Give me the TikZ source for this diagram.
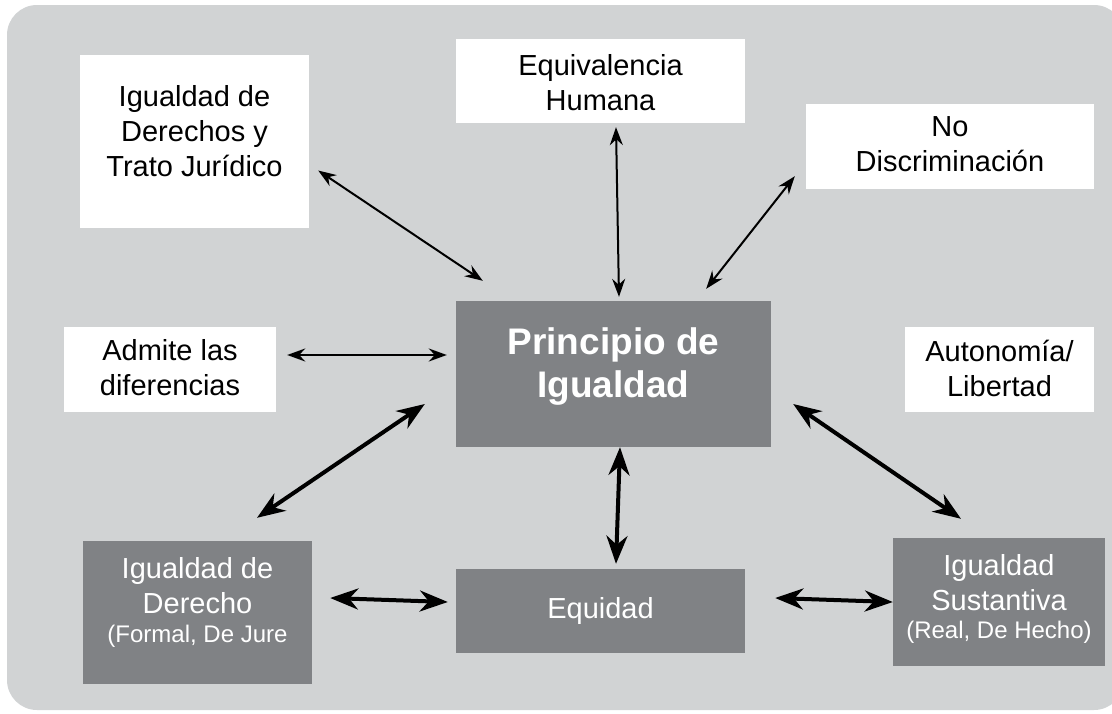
\documentclass[tikz,border=0pt]{standalone}
\usepackage{fontspec}
\setmainfont{Liberation Sans}
\usetikzlibrary{arrows.meta,calc}
\definecolor{panelgray}{HTML}{D1D3D4}
\definecolor{boxgray}{HTML}{808285}
\tikzset{
  lightbox/.style={rectangle, fill=white, inner sep=0pt},
  darkbox/.style={rectangle, fill=boxgray, inner sep=0pt},
  boxtext/.style={align=center, inner sep=0pt, font=\fontsize{29}{35}\selectfont},
  thin link/.style={{Stealth[length=18pt,width=13pt,inset=6pt]}-{Stealth[length=18pt,width=13pt,inset=6pt]}, line width=2pt},
  thick link/.style={{Stealth[length=28pt,width=21pt,inset=9pt]}-{Stealth[length=28pt,width=21pt,inset=9pt]}, line width=4pt}
}
\begin{document}
\begin{tikzpicture}[x=1pt,y=-1pt]
  \useasboundingbox (0,0) rectangle (1112,713);
  \clip (0,0) rectangle (1112,713);
  \fill[panelgray, rounded corners=30pt] (7,5) rectangle (1124,710);
  % boxes
  \path
    (194.5,141.5) node[lightbox, minimum width=229pt, minimum height=173pt] (der) {}
    (600.5,81) node[lightbox, minimum width=289pt, minimum height=84pt] (equiv) {}
    (950,146.5) node[lightbox, minimum width=288pt, minimum height=85pt] (nodisc) {}
    (170,369.5) node[lightbox, minimum width=212pt, minimum height=85pt] (admite) {}
    (999.5,369.5) node[lightbox, minimum width=189pt, minimum height=85pt] (auto) {}
    (613.5,374) node[darkbox, minimum width=315pt, minimum height=146pt] (prin) {}
    (197.5,612.5) node[darkbox, minimum width=229pt, minimum height=143pt] (igder) {}
    (600.5,611) node[darkbox, minimum width=289pt, minimum height=84pt] (equi) {}
    (999,602) node[darkbox, minimum width=212pt, minimum height=128pt] (sust) {};
  % texts
  \path
    (194.5,131.6) node[boxtext] (der-t) {Igualdad de\\Derechos y\\Trato Jurídico}
    (600.5,82.6) node[boxtext] (equiv-t) {Equivalencia\\Humana}
    (950,144) node[boxtext] (nodisc-t) {No\\Discriminación}
    (170,367.6) node[boxtext] (admite-t) {Admite las\\diferencias}
    (999.5,368) node[boxtext] (auto-t) {Autonomía/\\Libertad}
    (613.5,367) node[boxtext, text=white, font=\fontsize{37}{43}\selectfont\bfseries] (prin-t) {Principio de\\Igualdad}
    (197.5,602) node[boxtext, text=white] (igder-t) {Igualdad de\\Derecho\\[-6pt]{\fontsize{24}{29}\selectfont (Formal, De Jure}}
    (600.5,610.6) node[boxtext, text=white] (equi-t) {Equidad}
    (999,599) node[boxtext, text=white] (sust-t) {Igualdad\\Sustantiva\\[-7pt]{\fontsize{24}{29}\selectfont (Real, De Hecho)}};
  \begin{scope}[thin link]
    \draw ($(der.east)+(9,29)$) -- ($(prin.north west)+(27,-20)$);
    \draw ($(equiv.south)+(15.5,4)$) -- ($(prin.north)+(5.5,-4)$);
    \draw ($(nodisc.south west)+(-11,-13)$) -- ($(prin.north east)+(-65,-12)$);
    \draw ($(admite.east)+(11,-14.5)$) -- ($(prin.west)+(-9,-19)$);
  \end{scope}
  \begin{scope}[thick link]
    \draw ($(igder.north)+(59.5,-23)$) -- ($(prin.west)+(-31,30)$);
    \draw ($(sust.north)+(-38,-19)$) -- ($(prin.east)+(22,30)$);
    \draw ($(prin.south)+(6.5,0)$) -- ($(equi.north)+(15.5,-5)$);
    \draw ($(igder.east)+(18,-14.5)$) -- ($(equi.west)+(-8,-9)$);
    \draw ($(equi.east)+(30,-13)$) -- (sust.west);
  \end{scope}
\end{tikzpicture}
\end{document}
